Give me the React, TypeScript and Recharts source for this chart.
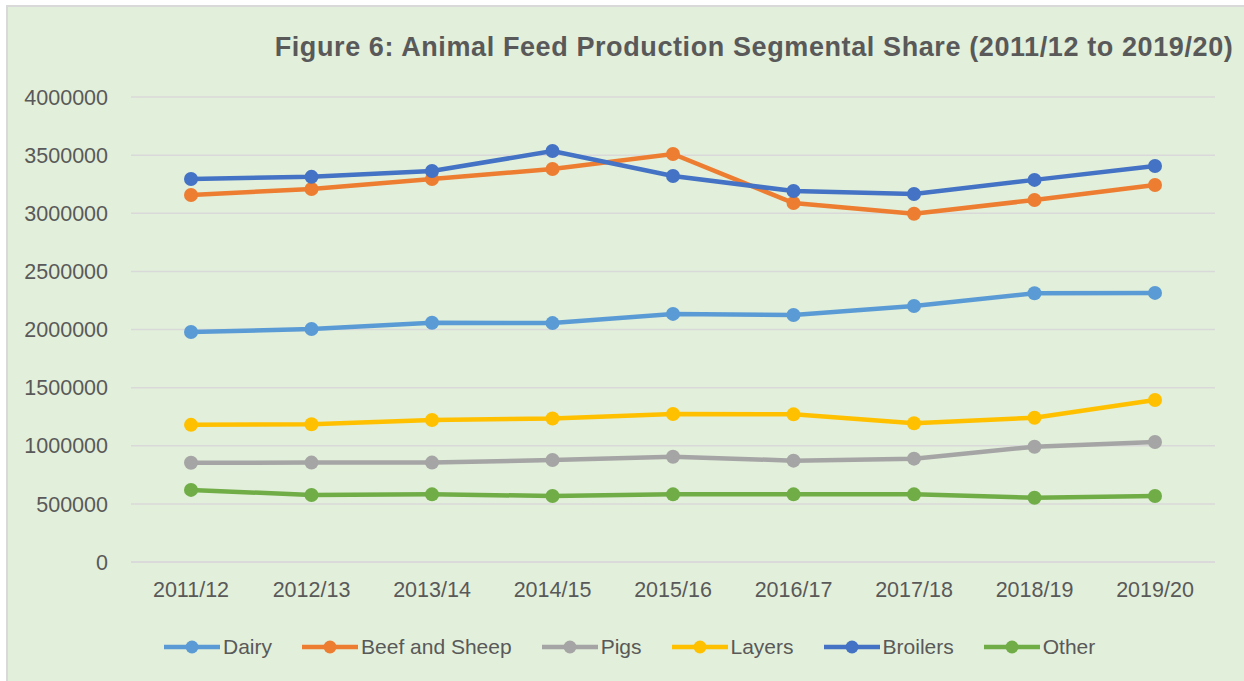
import React from "react";
import { LineChart, Line, XAxis, YAxis, CartesianGrid } from "recharts";

const categories = ["2011/12", "2012/13", "2013/14", "2014/15", "2015/16", "2016/17", "2017/18", "2018/19", "2019/20"];
const dairy = [1978000, 2004000, 2058000, 2055000, 2134000, 2125000, 2202000, 2312000, 2315000];
const beefSheep = [3157000, 3209000, 3295000, 3381000, 3510000, 3088000, 2996000, 3114000, 3243000];
const pigs = [854000, 855000, 855000, 877000, 906000, 872000, 889000, 992000, 1032000];
const layers = [1180000, 1185000, 1222000, 1234000, 1273000, 1270000, 1193000, 1241000, 1394000];
const broilers = [3295000, 3313000, 3363000, 3535000, 3320000, 3191000, 3165000, 3287000, 3406000];
const other = [620000, 576000, 582000, 568000, 582000, 582000, 582000, 553000, 568000];
const yTicks = [0, 500000, 1000000, 1500000, 2000000, 2500000, 3000000, 3500000, 4000000];

const seriesDefs = [
  { key: "dairy", name: "Dairy", color: "#5B9BD5", values: dairy },
  { key: "beef", name: "Beef and Sheep", color: "#ED7D31", values: beefSheep },
  { key: "pigs", name: "Pigs", color: "#A5A5A5", values: pigs },
  { key: "layers", name: "Layers", color: "#FFC000", values: layers },
  { key: "broilers", name: "Broilers", color: "#4472C4", values: broilers },
  { key: "other", name: "Other", color: "#70AD47", values: other },
];

const data = categories.map((c, i) => {
  const row: Record<string, any> = { category: c };
  seriesDefs.forEach((s) => {
    row[s.key] = s.values[i];
  });
  return row;
});

const FONT = "'Liberation Sans', Arial, sans-serif";
const TEXT = "#595959";

const LegendContent = () => (
  <div style={{ display: "flex", alignItems: "center", fontFamily: FONT, fontSize: 21, color: TEXT, whiteSpace: "nowrap" }}>
    {seriesDefs.map((s) => (
      <div key={s.key} style={{ display: "flex", alignItems: "center", marginRight: 30 }}>
        <svg width={56} height={16} style={{ marginRight: 3 }}>
          <line x1={0} y1={8} x2={56} y2={8} stroke={s.color} strokeWidth={4.5} strokeLinecap="round" />
          <circle cx={28} cy={8} r={6.5} fill={s.color} />
        </svg>
        <span>{s.name}</span>
      </div>
    ))}
  </div>
);

export default function App() {
  return (
    <div style={{ position: "absolute", left: 0, top: 0, width: 1244, height: 681, background: "#ffffff", overflow: "hidden" }}>
      <div
        style={{
          position: "absolute",
          left: 6,
          top: 5,
          width: 1238,
          height: 676,
          background: "#E2EFDA",
          borderTop: "2px solid #D9D9D9",
          borderLeft: "2px solid #D9D9D9",
          boxSizing: "border-box",
        }}
      />
      <div
        style={{
          position: "absolute",
          left: 754,
          top: 32,
          transform: "translateX(-50%)",
          whiteSpace: "nowrap",
          fontFamily: FONT,
          fontWeight: "bold",
          fontSize: 27,
          letterSpacing: 0.6,
          lineHeight: "30px",
          color: TEXT,
        }}
      >
        Figure 6: Animal Feed Production Segmental Share (2011/12 to 2019/20)
      </div>
      <div style={{ position: "absolute", left: 0, top: 0 }}>
        <LineChart width={1244} height={681} data={data} margin={{ top: 97, right: 29, bottom: 89, left: 0 }}>
          <CartesianGrid vertical={false} stroke="#D9D9D9" strokeWidth={1.5} />
          <XAxis
            dataKey="category"
            height={30}
            padding={{ left: 60, right: 60 }}
            axisLine={{ stroke: "#D9D9D9", strokeWidth: 1.5 }}
            tickLine={false}
            tickSize={0}
            tickMargin={20}
            tick={{ fill: TEXT, fontSize: 21.5, fontFamily: FONT }}
            interval={0}
          />
          <YAxis
            width={131}
            domain={[0, 4000000]}
            ticks={yTicks}
            axisLine={false}
            tickLine={false}
            tickSize={0}
            tickMargin={23}
            tick={{ fill: TEXT, fontSize: 21.5, fontFamily: FONT }}
            interval={0}
          />
          {seriesDefs.map((s) => (
            <Line
              key={s.key}
              type="linear"
              dataKey={s.key}
              name={s.name}
              stroke={s.color}
              strokeWidth={4.5}
              dot={{ r: 7, fill: s.color, stroke: s.color, strokeWidth: 0 }}
              activeDot={false}
              isAnimationActive={false}
            />
          ))}
        </LineChart>
      </div>
      <div style={{ position: "absolute", left: 164, top: 635 }}>
        <LegendContent />
      </div>
    </div>
  );
}
